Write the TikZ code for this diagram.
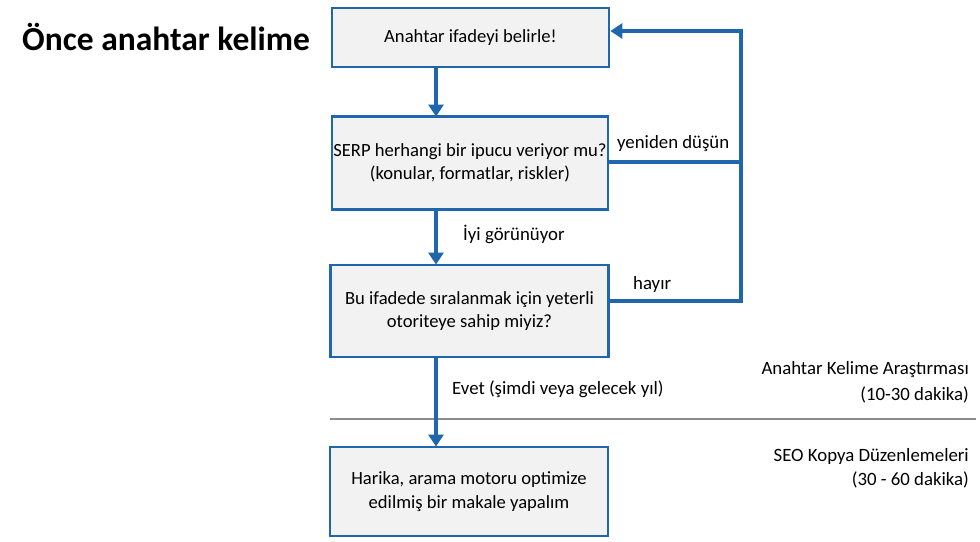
\documentclass[tikz,border=0pt]{standalone}
\usepackage{fontspec}
\setmainfont{Carlito}
\usetikzlibrary{arrows.meta,positioning}
\definecolor{flowblue}{RGB}{31,102,172}
\definecolor{boxfill}{RGB}{242,242,242}
\definecolor{rulegray}{RGB}{140,140,140}
\tikzset{
  flowbox/.style={draw=flowblue, line width=2.6pt, fill=boxfill, inner sep=0pt},
  flowarrow/.style={draw=flowblue, line width=3.6pt, -{Triangle[width=15pt,length=12pt]}},
  flowline/.style={draw=flowblue, line width=3.6pt},
  boxtext/.style={font=\fontsize{18.6}{23.5}\selectfont, align=center},
  lbl/.style={font=\fontsize{18.8}{24}\selectfont, inner sep=0pt},
}
\begin{document}
\begin{tikzpicture}[x=1pt,y=-1pt]
\useasboundingbox (0,0) rectangle (980,541);
% boxes
\node[flowbox, minimum width=277pt, minimum height=59pt] (b1) at (470.5,37.5) {};
\node[boxtext] at (b1.center) {Anahtar ifadeyi belirle!};
\node[flowbox, minimum width=276pt, minimum height=93pt] (b2) at (470,163) {};
\node[boxtext] at (b2.center) {SERP herhangi bir ipucu veriyor mu?\\(konular, formatlar, riskler)};
\node[flowbox, minimum width=278pt, minimum height=92pt] (b3) at (469.5,311) {};
\node[boxtext] at (b3.center) {Bu ifadede sıralanmak için yeterli\\otoriteye sahip miyiz?};
\node[flowbox, minimum width=278pt, minimum height=89pt] (b4) at (469,491.5) {};
\node[boxtext] at (b4.center) {Harika, arama motoru optimize\\edilmiş bir makale yapalım};
% title
\node[font=\fontsize{33.5}{38}\selectfont\bfseries, anchor=west, inner sep=0pt] (title) at (22,37) {Önce anahtar kelime};
% gray rule
\coordinate (rl) at (330,419);
\coordinate (rr) at (976,419);
\draw[rulegray, line width=1.2pt] (rl) -- (rr);
% vertical arrows
\draw[flowarrow] (436,67) -- (436,116.5);
\draw[flowarrow] (436,209.5) -- (436,264.5);
\draw[flowarrow] (436,357) -- (436,446.5);
% loop
\coordinate (c1) at (741,162);
\coordinate (c2) at (741,301);
\coordinate (c3) at (741,31);
\draw[flowline] (b2.east |- c1) -- (c1);
\draw[flowline, line join=miter] (b3.east |- c2) -- (c2) -- (c3) -- ++(-1.8,0);
\draw[flowarrow] (c3) -- (b1.east |- c3);
% labels
\node[lbl, anchor=west] (l1) at (463,234) {İyi görünüyor};
\node[lbl, anchor=west] (l2) at (452,389) {Evet (şimdi veya gelecek yıl)};
\node[lbl, anchor=west] (l3) at (617,144) {yeniden düşün};
\node[lbl, anchor=west] (l4) at (633,284) {hayır};
\node[lbl, anchor=east] (r1) at (969,370) {Anahtar Kelime Araştırması};
\node[lbl, anchor=east] (r2) at (969,395) {(10-30 dakika)};
\node[lbl, anchor=east] (r3) at (969,456) {SEO Kopya Düzenlemeleri};
\node[lbl, anchor=east] (r4) at (969,480) {(30 - 60 dakika)};
\end{tikzpicture}
\end{document}
